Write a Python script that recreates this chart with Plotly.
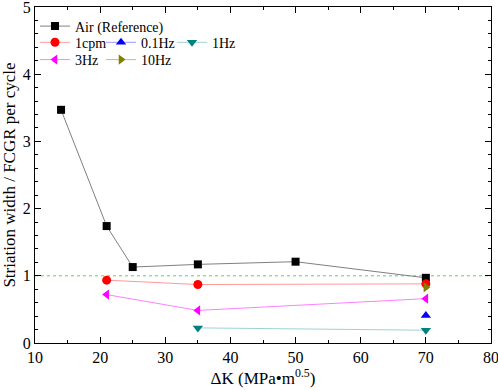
import plotly.graph_objects as go

# Data
air_x = [14, 21, 25, 35, 50, 70]
air_y = [3.47, 1.74, 1.13, 1.17, 1.21, 0.97]
cpm1_x = [21, 35, 70]
cpm1_y = [0.935, 0.87, 0.88]
hz01_x = [70]
hz01_y = [0.41]
hz1_x = [35, 70]
hz1_y = [0.225, 0.19]
hz3_x = [21, 35, 70]
hz3_y = [0.72, 0.485, 0.66]
hz10_x = [70]
hz10_y = [0.83]
ref_level = 1.0

FONT = "Liberation Serif"
W, H = 498, 390
ML, MR, MT, MB = 35, 7, 7, 47
PW = W - ML - MR
PH = H - MT - MB

def px2paper(xp, yp):
    return (xp - ML) / PW, 1 - (yp - MT) / PH

series = [
    ("Air (Reference)", air_x, air_y, "#000000", "#808080", "square", 8, "legend", (35, 26.5)),
    ("1cpm", cpm1_x, cpm1_y, "#ff0000", "#ff9a9a", "circle", 9, "legend2", (35, 42.7)),
    ("0.1Hz", hz01_x, hz01_y, "#0000ff", "#9a9aff", "triangle-up", 9, "legend3", (101, 42.7)),
    ("1Hz", hz1_x, hz1_y, "#008080", "#9fd3d3", "triangle-down", 9, "legend4", (172, 42.7)),
    ("3Hz", hz3_x, hz3_y, "#ff00ff", "#ff80ff", "triangle-left", 9, "legend5", (35, 60)),
    ("10Hz", hz10_x, hz10_y, "#808000", "#c0c080", "triangle-right", 9, "legend6", (101, 60)),
]

fig = go.Figure()
layout_legends = {}
for name, xs, ys, mc, lc, sym, sz, lg, (lx, ly) in series:
    fig.add_trace(go.Scatter(
        x=xs, y=ys, name=name, mode="lines+markers",
        line=dict(color=lc, width=1),
        marker=dict(symbol=sym, size=sz, color=mc, line=dict(width=0)),
        legend=lg,
    ))
    px_, py_ = px2paper(lx, ly)
    layout_legends[lg] = dict(
        x=px_, y=py_, xanchor="left", yanchor="middle",
        bgcolor="rgba(0,0,0,0)", borderwidth=0,
        font=dict(family=FONT, size=14, color="#000"),
        itemsizing="trace",
    )

fig.add_hline(y=ref_level, line=dict(color="#5cd65c", width=1, dash="dot"), layer="below")

axis_common = dict(
    showline=True, linecolor="#000", linewidth=1.3, mirror="allticks",
    ticks="inside", ticklen=6, tickwidth=1.3, tickcolor="#000",
    showgrid=False, zeroline=False, automargin=False,
    ticklabeloverflow="allow",
    tickfont=dict(family=FONT, size=16, color="#000"),
)

fig.update_layout(
    width=W, height=H,
    margin=dict(l=ML, r=MR, t=MT, b=MB, autoexpand=False),
    plot_bgcolor="white", paper_bgcolor="white",
    showlegend=True,
    xaxis=dict(range=[10, 80], dtick=10, tick0=10,
               minor=dict(dtick=5, ticks="inside", ticklen=3, tickwidth=1.3, tickcolor="#000"),
               title=dict(text="ΔK (MPa•m<sup>0.5</sup>)", font=dict(family=FONT, size=17, color="#000"), standoff=4),
               **axis_common),
    yaxis=dict(range=[0, 5], dtick=1, tick0=0,
               minor=dict(dtick=0.2, ticks="inside", ticklen=3, tickwidth=1.3, tickcolor="#000"),
               title=dict(text="Striation width / FCGR per cycle", font=dict(family=FONT, size=17, color="#000"), standoff=2),
               **axis_common),
    **layout_legends,
)

fig.write_html("out.html", config={"displayModeBar": False},
               post_script="document.body.style.margin='0px';document.body.style.overflow='hidden';")
